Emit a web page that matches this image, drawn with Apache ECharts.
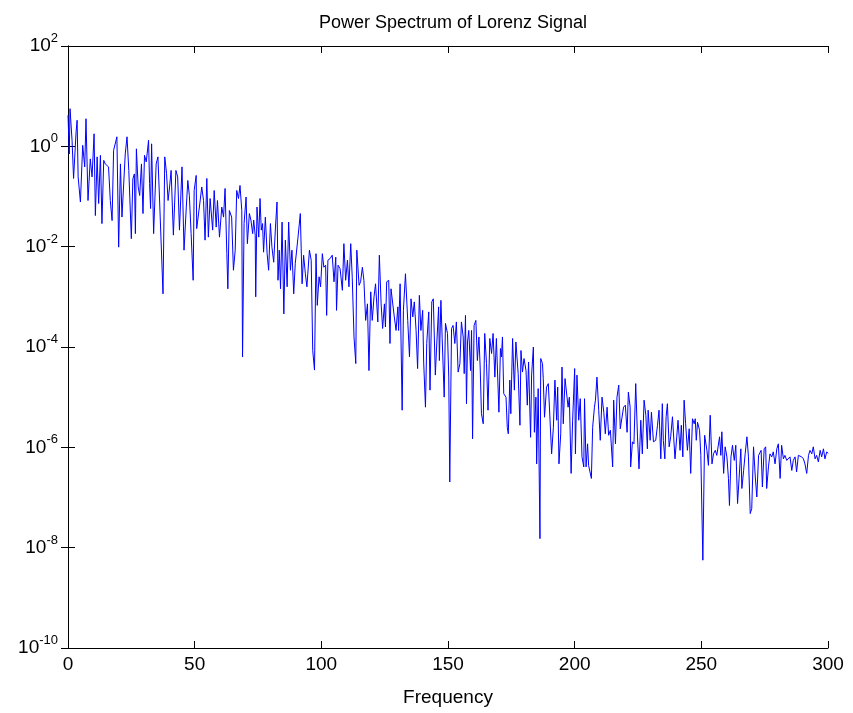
<!DOCTYPE html>
<html>
<head>
<meta charset="utf-8">
<script src="https://cdn.jsdelivr.net/npm/echarts@6/dist/echarts.min.js"></script>
<style>
  html, body { margin: 0; padding: 0; background: #fff; }
  #main { width: 853px; height: 713px; }
</style>
</head>
<body>
<div id="main"></div>
<script>
// [frequency, log10(power)]
var spectrum = [
  [0,0.62],[0.5,-0.15],[0.8,0.75],[1.6,0.12],[2.2,-0.64],[3.2,0.29],[3.6,0.52],[4.0,-0.61],[4.9,-1.11],[5.8,0.02],
  [6.6,-0.41],[7.1,0.55],[7.9,-1.08],[8.8,-0.25],[9.5,-0.61],[10.3,0.25],[10.8,-1.38],[11.5,-0.21],[12.1,-1.14],[12.8,-0.18],
  [13.4,-1.54],[14.1,-0.28],[14.7,-0.35],[15.4,-0.33],[16.0,-0.41],[16.7,-1.08],[17.4,-1.48],[18.0,-0.08],[19.3,0.19],[20.0,-2.01],
  [20.7,-0.35],[21.3,-1.41],[22.6,-0.15],[23.3,0.19],[24.0,-0.48],[25.0,-1.84],
  [25.6,-0.65],[26.2,-0.55],[26.6,-1.74],[27.0,-0.05],[27.7,-0.81],[28.3,-0.98],[29.0,-0.35],[29.6,-1.34],[30.2,-0.18],[30.9,-0.31],
  [31.8,0.12],[32.2,-0.74],[32.6,-1.24],[33.0,0.05],[33.8,-1.74],[34.8,-0.35],[35.5,-0.21],[36.1,-1.01],[37.5,-2.94],[38.2,-0.21],
  [38.9,-0.54],[39.5,-1.08],[40.1,-0.81],[40.7,-0.48],[41.6,-1.77],[42.6,-0.48],[43.3,-0.61],[44.0,-1.67],[45.0,-0.41],[45.8,-2.07],
  [46.7,-1.21],[47.3,-0.68],[47.9,-0.98],[48.6,-1.74],[49.4,-2.67],
  [49.8,-0.88],[50.6,-0.58],[50.8,-1.64],[51.5,-1.67],[52.1,-1.11],[52.8,-0.81],[53.5,-1.08],[54.1,-1.87],[54.8,-0.64],[55.4,-1.81],
  [56.1,-1.04],[57.1,-1.67],[57.7,-0.88],[58.5,-1.61],[59.0,-1.08],[59.8,-1.81],[60.7,-1.21],[61.4,-1.41],[62.0,-0.84],[62.7,-2.14],
  [63.1,-2.84],[63.7,-1.28],[64.6,-1.41],[65.3,-2.47],[66.0,-2.07],[66.6,-0.88],[67.3,-1.04],[67.9,-0.78],[68.6,-1.28],[68.9,-4.2],
  [69.5,-1.54],[70.3,-1.01],[70.8,-1.94],[71.6,-1.34],[72.2,-1.47],[72.9,-1.74],
  [73.3,-1.47],[73.9,-1.77],[74.1,-3.0],[74.6,-1.21],[75.3,-1.81],[75.8,-1.04],[76.3,-1.67],[76.8,-1.54],[77.2,-2.11],[77.9,-1.41],
  [78.6,-2.14],[79.2,-2.47],[79.9,-1.54],[80.5,-2.01],[81.2,-2.31],[81.9,-1.61],[82.5,-1.11],[82.9,-2.67],[83.4,-2.07],[83.9,-2.84],
  [84.5,-1.51],[85.2,-3.34],[85.8,-1.87],[86.5,-2.8],[87.1,-1.51],[87.8,-2.47],[88.4,-2.07],[89.1,-2.94],[89.7,-2.34],[90.8,-1.81],
  [91.7,-1.34],[92.4,-2.74],[93.0,-2.17],[93.7,-2.54],[94.3,-2.8],[95.3,-2.07],[96.0,-2.27],[96.6,-4.07],[97.3,-4.46],[97.9,-2.14],
  [98.4,-3.17],
  [99.1,-2.6],[99.7,-2.8],[100.4,-2.14],[101.0,-2.41],[101.7,-2.37],[102.1,-3.37],[102.6,-2.27],[103.4,-2.24],[104.3,-2.17],[105.0,-2.7],
  [105.7,-2.21],[106.0,-3.27],[106.6,-2.37],[107.4,-2.44],[108.3,-2.87],[108.9,-1.94],[109.6,-2.67],[110.3,-2.27],[110.9,-2.8],[111.6,-1.94],
  [112.2,-2.61],[112.9,-3.8],[113.6,-4.33],[114.0,-2.07],[114.9,-2.77],[115.5,-2.7],[116.2,-2.41],[116.8,-2.67],[117.5,-3.47],[118.2,-3.14],
  [118.8,-4.47],[119.5,-2.9],[120.1,-3.47],[120.8,-3.0],[121.4,-2.74],
  [122.3,-3.5],[122.9,-2.17],[123.6,-3.14],[124.2,-3.63],[124.9,-3.14],[125.3,-3.6],[125.8,-2.7],[126.6,-2.67],[127.1,-3.93],[127.5,-2.84],
  [128.2,-2.87],[128.8,-3.4],[129.5,-3.67],[130.2,-3.2],[130.5,-3.67],[131.1,-2.74],[131.9,-5.26],[132.4,-3.27],[133.2,-2.54],[134.1,-3.47],
  [134.8,-4.2],[135.4,-3.04],[136.1,-3.4],[136.7,-3.1],[137.4,-3.67],[138.0,-4.43],[138.7,-2.97],[139.3,-3.67],[140.0,-3.27],[140.4,-4.3],
  [141.1,-5.2],[141.6,-3.93],[142.4,-3.3],[142.9,-4.86],[143.6,-3.1],[144.2,-3.04],[145.0,-4.56],[145.6,-3.9],[146.3,-3.2],[146.6,-4.27],
  [147.2,-3.07],
  [147.7,-3.83],[148.5,-5.0],[149.0,-3.53],[149.8,-3.73],[150.3,-4.6],[150.7,-6.69],[151.4,-3.63],[152.0,-3.57],[152.7,-3.93],[153.3,-3.5],
  [154.0,-4.5],[154.7,-4.33],[155.3,-3.5],[156.0,-3.8],[156.4,-4.53],[156.9,-3.37],[157.3,-5.13],[157.7,-3.9],[158.2,-3.67],[158.9,-4.47],
  [159.3,-3.67],[159.7,-5.83],[160.3,-3.57],[161.0,-3.47],[161.6,-4.27],[162.2,-3.8],[162.7,-4.4],[163.2,-5.33],[163.9,-5.53],[164.5,-3.73],
  [165.2,-4.33],[165.8,-5.26],[166.5,-3.83],[167.2,-4.13],[167.8,-3.73],[168.5,-4.6],[169.1,-3.83],[170.1,-5.3],[170.7,-4.03],[171.1,-4.2],
  [171.5,-3.8],[172.0,-4.93],
  [172.9,-5.0],[173.4,-5.6],[173.8,-5.73],[174.4,-4.66],[174.8,-5.33],[175.5,-3.83],[176.2,-4.86],[176.8,-3.9],[177.7,-4.53],[178.4,-5.56],
  [178.8,-4.07],[179.4,-4.5],[180.0,-4.23],[180.8,-4.47],[181.3,-5.16],[181.8,-4.3],[182.6,-5.8],[183.0,-4.56],[183.7,-4.0],[184.1,-5.7],
  [184.7,-5.0],[185.0,-6.33],[185.6,-4.83],[186.3,-7.82],[186.6,-4.23],[187.3,-4.33],[187.6,-4.63],[188.1,-5.4],[188.9,-4.8],[189.6,-4.73],
  [190.2,-4.73],[190.9,-6.13],[191.6,-5.6],[192.2,-4.66],[192.9,-5.46],[193.3,-4.8],[193.8,-6.33],[194.5,-5.73],[195.0,-4.4],[195.5,-5.53],
  [196.2,-4.63],
  [197.4,-5.2],[197.9,-5.0],[198.6,-6.52],[199.2,-5.46],[200.0,-4.43],[200.3,-6.13],[200.9,-4.56],[201.6,-5.46],[202.2,-5.03],[202.9,-6.19],
  [203.6,-6.39],[203.9,-5.03],[204.5,-6.39],[205.1,-5.93],[205.5,-6.36],[206.2,-6.39],[206.6,-6.62],[207.1,-5.6],[207.8,-5.2],[208.2,-5.06],
  [208.8,-4.6],[209.5,-5.26],[210.1,-5.86],[210.8,-5.0],[211.5,-5.3],[212.1,-5.73],[212.8,-5.2],[213.4,-5.76],[214.1,-5.66],[215.0,-6.39],
  [215.4,-5.06],[216.1,-5.93],[216.7,-5.0],[217.4,-4.76],[218.0,-5.63],[218.7,-5.6],[219.3,-5.2],[220.0,-5.16],[220.7,-5.7],
  [221.2,-4.9],[221.9,-5.2],[222.1,-6.39],[222.8,-5.89],[223.4,-5.93],[224.1,-4.73],[224.8,-5.79],[225.4,-6.43],[226.1,-5.46],[226.7,-6.13],
  [227.4,-5.06],[228.1,-5.36],[228.7,-6.03],[229.0,-5.26],[229.8,-5.86],[230.3,-5.3],[231.1,-5.89],[232.0,-5.86],[232.7,-5.56],[233.3,-5.26],
  [234.0,-6.23],[234.6,-5.13],[235.0,-5.86],[235.6,-6.23],[236.1,-5.39],[236.6,-5.13],[237.3,-5.99],[237.9,-5.79],[238.6,-5.39],[239.2,-5.36],
  [239.6,-6.23],[240.3,-5.79],[240.8,-5.46],[241.6,-6.06],[242.1,-5.56],[242.7,-6.19],[243.2,-5.06],[243.8,-5.53],[244.5,-6.06],[245.2,-5.63],
  [245.8,-6.52],[246.5,-5.43],
  [247.2,-5.53],[247.6,-5.43],[248.0,-5.86],[248.5,-5.5],[249.3,-5.66],[249.8,-6.16],[250.6,-8.25],[251.3,-5.76],[252.2,-6.06],[252.8,-6.36],
  [253.5,-5.36],[254.2,-6.33],[254.8,-6.13],[255.5,-6.06],[256.1,-6.16],[256.8,-6.19],[257.2,-5.79],[257.7,-6.16],[258.1,-5.69],[258.8,-6.52],
  [259.4,-5.99],[260.1,-6.19],[260.7,-6.62],[261.1,-7.16],[261.7,-6.19],[262.3,-5.96],[263.0,-6.26],[263.6,-5.96],[264.3,-7.12],[264.9,-6.62],
  [265.6,-6.03],[266.0,-6.82],[266.7,-6.46],[267.3,-6.13],[268.0,-5.79],[268.6,-6.19],[269.3,-7.32],[269.9,-7.22],[270.6,-5.99],[271.3,-6.59],
  [271.9,-6.99],[272.6,-6.16],
  [273.6,-6.06],[274.1,-6.79],[274.8,-6.03],[275.4,-5.99],[275.8,-6.82],[276.5,-6.39],[277.1,-6.13],[277.8,-6.19],[278.4,-6.09],[279.1,-6.33],
  [279.8,-6.03],[280.4,-5.93],[281.1,-6.62],[281.7,-5.96],[282.4,-6.23],[283.0,-6.16],[283.7,-6.26],[284.4,-6.26],[285.0,-6.19],[285.7,-6.46],
  [286.3,-6.26],[287.0,-6.19],[287.6,-6.49],[288.3,-6.16],[289.0,-6.13],[289.6,-6.19],[290.3,-6.23],[290.9,-6.33],[291.6,-6.52],[292.3,-6.16],
  [292.9,-6.06],[293.6,-6.13],[294.2,-5.99],[294.9,-6.23],[295.5,-6.16],[296.2,-6.29],[296.9,-6.06],[297.5,-6.19],[298.2,-6.03],[298.8,-6.23],
  [299.5,-6.09],[300.0,-6.12]
];

var xRange = [0, 300];
var xStep = 50;
var yRange = [1e-10, 1e2];
var yDecadeStep = 2;

var font = 'Liberation Sans, Arial, Helvetica, sans-serif';

var chart = echarts.init(document.getElementById('main'));

var supLabel = {
  formatter: function (v) {
    var e = Math.round(Math.log10(v));
    return '{b|10}{s|' + e + '}';
  },
  rich: {
    b: { fontSize: 19, color: '#000', fontFamily: font },
    s: { fontSize: 13, color: '#000', fontFamily: font, padding: [0, 0, 15, 0] }
  },
  margin: 10
};

var frameX = {
  type: 'value', min: xRange[0], max: xRange[1], interval: xStep,
  axisLine: { show: true, lineStyle: { color: '#000', width: 1 } },
  axisTick: { show: true, inside: true, length: 7, lineStyle: { color: '#000' } },
  splitLine: { show: false }
};
var frameY = {
  type: 'log', logBase: 10, min: yRange[0], max: yRange[1], interval: yDecadeStep,
  axisLine: { show: true, lineStyle: { color: '#000', width: 1 } },
  axisTick: { show: true, inside: true, length: 7, lineStyle: { color: '#000' } },
  splitLine: { show: false }
};

var option = {
  animation: false,
  backgroundColor: '#fff',
  title: {
    text: 'Power Spectrum of Lorenz Signal',
    left: 448, top: 9, textAlign: 'center',
    textStyle: { fontSize: 18, fontWeight: 'normal', color: '#000', fontFamily: font }
  },
  grid: { left: 68, top: 46, width: 760, height: 602 },
  xAxis: [
    Object.assign({}, frameX, {
      position: 'bottom',
      name: 'Frequency', nameLocation: 'middle', nameGap: 40,
      nameTextStyle: { fontSize: 19, color: '#000', fontFamily: font },
      axisLabel: { color: '#000', fontSize: 19, margin: 7, fontFamily: font }
    }),
    Object.assign({}, frameX, { position: 'top', axisLabel: { show: false } })
  ],
  yAxis: [
    Object.assign({}, frameY, { position: 'left', axisLabel: supLabel }),
    Object.assign({}, frameY, { position: 'right', axisLabel: { show: false } })
  ],
  series: [{
    type: 'line',
    xAxisIndex: 0, yAxisIndex: 0,
    showSymbol: false,
    symbol: 'none',
    lineStyle: { color: '#0000ff', width: 1 },
    data: spectrum.map(function (p) { return [p[0], Math.pow(10, p[1])]; })
  }]
};

chart.setOption(option);
</script>
</body>
</html>
